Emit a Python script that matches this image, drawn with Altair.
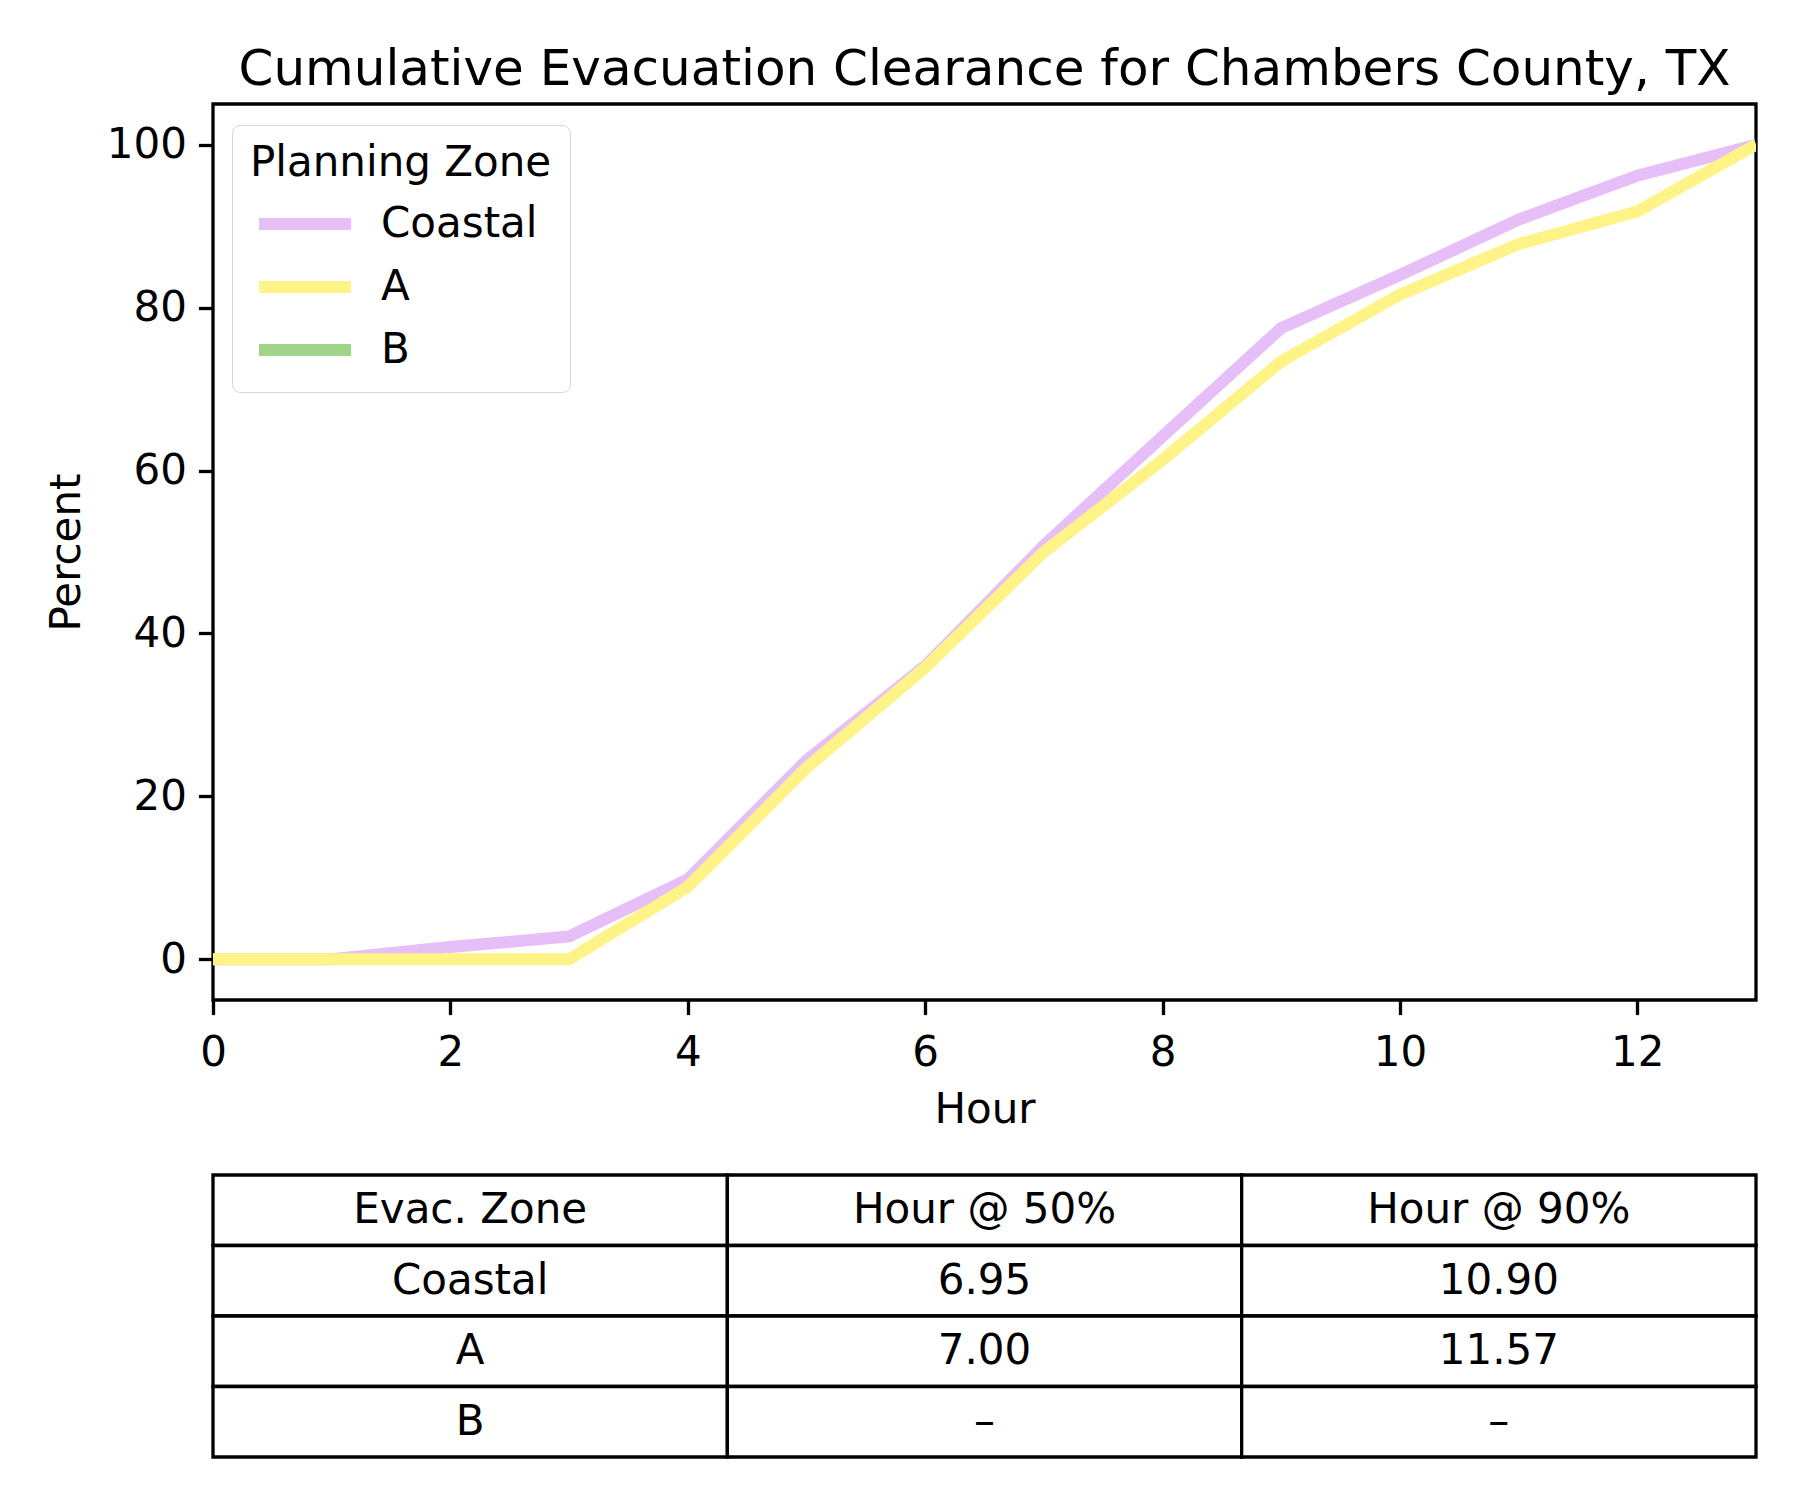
import altair as alt
import pandas as pd

# ---- data ----
hours = list(range(14))
coastal = [0, 0, 1.5, 2.8, 9.8, 24.4, 36.0, 50.8, 64.2, 77.5, 84.0, 90.8, 96.2, 100]
zone_a = [0, 0, 0, 0, 8.9, 23.5, 35.8, 50.0, 61.3, 73.4, 81.6, 87.8, 91.8, 100]
zones = ["Coastal", "A", "B"]
zone_colors = ["#E6BEF8", "#FDF386", "#A0D488"]
x_ticks = [0, 2, 4, 6, 8, 10, 12]
y_ticks = [0, 20, 40, 60, 80, 100]

table_header = ["Evac. Zone", "Hour @ 50%", "Hour @ 90%"]
table_zones = ["Coastal", "A", "B"]
hour_50 = ["6.95", "7.00", "–"]
hour_90 = ["10.90", "11.57", "–"]

FONT = "DejaVu Sans"

rows = []
for h, v in zip(hours, coastal):
    rows.append({"Hour": h, "Percent": v, "Zone": "Coastal"})
for h, v in zip(hours, zone_a):
    rows.append({"Hour": h, "Percent": v, "Zone": "A"})
df = pd.DataFrame(rows)

lines = alt.Chart(df).mark_line(strokeWidth=12, clip=True, strokeCap="butt").encode(
    x=alt.X("Hour:Q", scale=alt.Scale(domain=[0, 13], nice=False, zero=False),
            axis=alt.Axis(values=x_ticks, title="Hour", format="d",
                          labelPadding=18, titlePadding=16)),
    y=alt.Y("Percent:Q", scale=alt.Scale(domain=[-5, 105], nice=False, zero=False),
            axis=alt.Axis(values=y_ticks, title="Percent", format="d",
                          labelPadding=12, titlePadding=18)),
    color=alt.Color("Zone:N", sort=zones,
                    scale=alt.Scale(domain=zones, range=zone_colors),
                    legend=alt.Legend(
                        title="Planning Zone", orient="none", legendX=19, legendY=21,
                        symbolType="M-2.3,0L2.3,0", symbolSize=1600, symbolStrokeWidth=12,
                        symbolOffset=29, labelOffset=50, rowPadding=13,
                        padding=18, titlePadding=13,
                        strokeColor="#d6d6d6", fillColor="white", cornerRadius=8,
                        labelFontSize=42, titleFontSize=42, titleFontWeight="normal",
                        labelFont=FONT, titleFont=FONT, labelColor="black", titleColor="black",
                        labelLimit=0, titleLimit=0)),
    order=alt.Order("zorder:Q"),
).transform_calculate(zorder="datum.Zone == 'Coastal' ? 0 : 1")

plot = lines.properties(
    width=1543, height=896,
    view=alt.ViewBackground(stroke="black", strokeWidth=3.3),
    title=alt.TitleParams("Cumulative Evacuation Clearance for Chambers County, TX",
                          fontSize=50, fontWeight="normal", font=FONT, color="black",
                          anchor="middle", frame="group", offset=9),
)

# ---- table ----
cells = []
for c, t in enumerate(table_header):
    cells.append({"col": c, "row": 0, "text": t})
for r, (z, a, b) in enumerate(zip(table_zones, hour_50, hour_90), start=1):
    cells.append({"col": 0, "row": r, "text": z})
    cells.append({"col": 1, "row": r, "text": a})
    cells.append({"col": 2, "row": r, "text": b})
tdf = pd.DataFrame(cells)

tx = alt.X("col:O", scale=alt.Scale(paddingInner=0, paddingOuter=0), axis=None)
ty = alt.Y("row:O", scale=alt.Scale(paddingInner=0, paddingOuter=0), axis=None)
tbase = alt.Chart(tdf).encode(x=tx, y=ty)
trect = tbase.mark_rect(fill="white", stroke="black", strokeWidth=3.3)
ttext = tbase.mark_text(fontSize=42, font=FONT, color="black", baseline="middle", align="center").encode(
    text="text:N")
table = alt.layer(trect, ttext).properties(width=1543, height=282,
                                           view=alt.ViewBackground(stroke="transparent"))

chart = alt.vconcat(plot, table, spacing=39).properties(
    padding={"left": 35, "top": 35, "right": 20, "bottom": 20},
    background="white",
).configure_axis(
    domain=False, grid=False, ticks=True, tickColor="black", tickSize=14.6, tickWidth=3.3,
    labelFontSize=42, labelFont=FONT, labelColor="black",
    titleFontSize=42, titleFont=FONT, titleColor="black", titleFontWeight="normal",
).configure_axisX(labelFlush=False)

chart.save("out.html", embed_options={"renderer": "svg", "actions": False})
